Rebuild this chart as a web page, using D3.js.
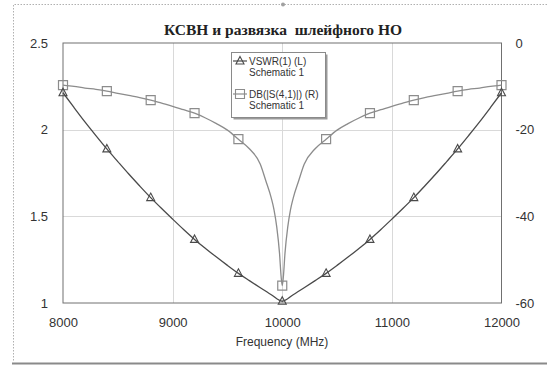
<!DOCTYPE html>
<html><head><meta charset="utf-8">
<script src="https://cdn.jsdelivr.net/npm/d3@7"></script>
<style>html,body{margin:0;background:#fff;overflow:hidden}svg{display:block}</style>
</head><body>
<script>
// ---- data ----
const title = "КСВН и развязка  шлейфного НО";
const xTicks = [8000, 9000, 10000, 11000, 12000];
const yLeftTicks = [1, 1.5, 2, 2.5];
const yRightTicks = [-60, -40, -20, 0];
const legendLabels = [["VSWR(1) (L)", "Schematic 1"], ["DB(|S(4,1)|) (R)", "Schematic 1"]];

const freqV = [8000,8100,8200,8300,8400,8500,8600,8700,8800,8900,9000,9100,9200,9300,9400,9500,9600,9700,9800,9900,10000,
               10100,10200,10300,10400,10500,10600,10700,10800,10900,11000,11100,11200,11300,11400,11500,11600,11700,11800,11900,12000];
const vswr = [2.213,2.128,2.045,1.966,1.889,1.816,1.744,1.675,1.608,1.545,1.484,1.424,1.367,1.315,1.265,1.217,1.171,1.129,1.088,1.048,1.01,
              1.048,1.088,1.129,1.171,1.217,1.265,1.315,1.367,1.424,1.484,1.545,1.608,1.675,1.744,1.816,1.889,1.966,2.045,2.128,2.213];

const freqD = [8000,8100,8200,8300,8400,8500,8600,8700,8800,8900,9000,9100,9200,9300,9400,9500,9600,9700,9800,9850,9900,9925,9950,9975,9990,10000,
               10010,10025,10050,10075,10100,10150,10200,10300,10400,10500,10600,10700,10800,10900,11000,11100,11200,11300,11400,11500,11600,11700,11800,11900,12000];
const dbS41 = [-9.7,-10.0,-10.4,-10.7,-11.1,-11.6,-12.1,-12.6,-13.2,-13.9,-14.6,-15.4,-16.2,-17.3,-18.6,-20.1,-22.2,-24.4,-28.0,-31.8,-35.8,-38.5,-42.5,-48.5,-54.0,-56.0,
               -54.0,-48.5,-42.5,-38.5,-35.8,-31.8,-28.0,-24.4,-22.2,-20.1,-18.6,-17.3,-16.2,-15.4,-14.6,-13.9,-13.2,-12.6,-12.1,-11.6,-11.1,-10.7,-10.4,-10.0,-9.7];

const markerFreqs = [8000,8400,8800,9200,9600,10000,10400,10800,11200,11600,12000];

// ---- chart ----
const W = 547, H = 365;
const svg = d3.select("body").append("svg").attr("width", W).attr("height", H)
  .style("font-family", "Arial, 'Liberation Sans', sans-serif");

// outer frame (top and left dotted, bottom solid)
svg.append("path").attr("d", `M${W},4.5H13.5V362`)
  .attr("fill", "none").attr("stroke", "#b0b0b0").attr("stroke-dasharray", "1.5,1.5");
svg.append("line").attr("x1", 12).attr("x2", W).attr("y1", 363.5).attr("y2", 363.5)
  .attr("stroke", "#8a8a8a").attr("stroke-width", 2);
svg.append("circle").attr("cx", 283).attr("cy", 4.5).attr("r", 2).attr("fill", "#a0a0a0");

const x = d3.scaleLinear().domain([8000, 12000]).range([63, 501.5]);
const yL = d3.scaleLinear().domain([1, 2.5]).range([303, 43]);
const yR = d3.scaleLinear().domain([-60, 0]).range([303, 43]);

// grid
const grid = svg.append("g").attr("stroke", "#d9d9d9").attr("stroke-width", 1);
grid.selectAll(".gx").data(xTicks.slice(1, -1)).join("line")
  .attr("x1", d => Math.round(x(d)) + 0.5).attr("x2", d => Math.round(x(d)) + 0.5)
  .attr("y1", yL(2.5)).attr("y2", yL(1));
grid.selectAll(".gy").data(yLeftTicks.slice(1, -1)).join("line")
  .attr("y1", d => Math.round(yL(d)) + 0.5).attr("y2", d => Math.round(yL(d)) + 0.5)
  .attr("x1", x(8000)).attr("x2", x(12000));

// frame
svg.append("rect").attr("x", x(8000)).attr("y", yL(2.5))
  .attr("width", x(12000) - x(8000)).attr("height", yL(1) - yL(2.5))
  .attr("fill", "none").attr("stroke", "#707070").attr("stroke-width", 1);

// axes
function styleAxis(g) {
  g.select(".domain").remove();
  g.selectAll("line").remove();
  g.selectAll("text").attr("fill", "#333").style("font-size", "13px")
    .style("font-family", "Arial, 'Liberation Sans', sans-serif");
}
svg.append("g").attr("transform", `translate(0,${yL(1)})`)
  .call(d3.axisBottom(x).tickValues(xTicks).tickSize(0).tickPadding(15).tickFormat(d => String(d)))
  .call(styleAxis);
svg.append("g").attr("transform", `translate(${x(8000)},0)`)
  .call(d3.axisLeft(yL).tickValues(yLeftTicks).tickSize(0).tickPadding(15).tickFormat(d => String(d)))
  .call(styleAxis);
svg.append("g").attr("transform", `translate(${x(12000)},0)`)
  .call(d3.axisRight(yR).tickValues(yRightTicks).tickSize(0).tickPadding(14).tickFormat(d => String(d)))
  .call(styleAxis);

// title
svg.append("text").attr("x", 283).attr("y", 35).attr("text-anchor", "middle")
  .style("white-space", "pre")
  .style("font-family", "'Liberation Serif', 'Times New Roman', serif").style("font-weight", "bold")
  .style("font-size", "15.5px").attr("fill", "#222").text(title);
svg.append("text").attr("x", 282).attr("y", 346).attr("text-anchor", "middle")
  .style("font-size", "12px").attr("fill", "#333").text("Frequency (MHz)");

const vColor = "#4a4a4a", dColor = "#8c8c8c";

// lines
const vData = freqV.map((f, i) => [f, vswr[i]]);
const dData = freqD.map((f, i) => [f, dbS41[i]]);
svg.append("path").datum(dData).attr("fill", "none").attr("stroke", dColor).attr("stroke-width", 1.3)
  .attr("d", d3.line().x(d => x(d[0])).y(d => yR(d[1])).curve(d3.curveMonotoneX));
svg.append("path").datum(vData).attr("fill", "none").attr("stroke", vColor).attr("stroke-width", 1.3)
  .attr("d", d3.line().x(d => x(d[0])).y(d => yL(d[1])).curve(d3.curveMonotoneX));

const tri = (cx, cy) => `M${cx},${cy - 4.5}L${cx + 4},${cy + 3}L${cx - 4},${cy + 3}Z`;
const sq = (cx, cy) => `M${cx - 4.5},${cy - 4.5}h9v9h-9Z`;

// markers
const dMarks = markerFreqs.map(f => [f, dbS41[freqD.indexOf(f)]]);
const vMarks = markerFreqs.map(f => [f, vswr[freqV.indexOf(f)]]);
svg.append("g").selectAll("path").data(dMarks).join("path")
  .attr("d", d => sq(x(d[0]), yR(d[1]))).attr("fill", "none").attr("stroke", dColor).attr("stroke-width", 1.2);
svg.append("g").selectAll("path").data(vMarks).join("path")
  .attr("d", d => tri(x(d[0]), yL(d[1]))).attr("fill", "none").attr("stroke", vColor).attr("stroke-width", 1.1);

// legend
const lg = svg.append("g");
lg.append("rect").attr("x", 233.5).attr("y", 54.5).attr("width", 94).attr("height", 65).attr("fill", "#9a9a9a");
lg.append("rect").attr("x", 231.5).attr("y", 52.5).attr("width", 94).attr("height", 65)
  .attr("fill", "#fff").attr("stroke", "#8a8a8a");
const legY = [61, 94];
const legColors = [vColor, dColor];
legendLabels.forEach((lab, i) => {
  lg.append("line").attr("x1", 233).attr("x2", 247).attr("y1", legY[i]).attr("y2", legY[i])
    .attr("stroke", legColors[i]).attr("stroke-width", 1.2);
  lg.append("path").attr("d", i === 0 ? tri(240, legY[i]) : sq(240, legY[i]))
    .attr("fill", "none").attr("stroke", legColors[i]).attr("stroke-width", 1.1);
  lg.append("text").attr("x", 249).attr("y", legY[i] + 3.5).style("font-size", "10px").attr("fill", "#333").text(lab[0]);
  lg.append("text").attr("x", 249).attr("y", legY[i] + 14.5).style("font-size", "10px").attr("fill", "#333").text(lab[1]);
});
</script>
</body></html>
